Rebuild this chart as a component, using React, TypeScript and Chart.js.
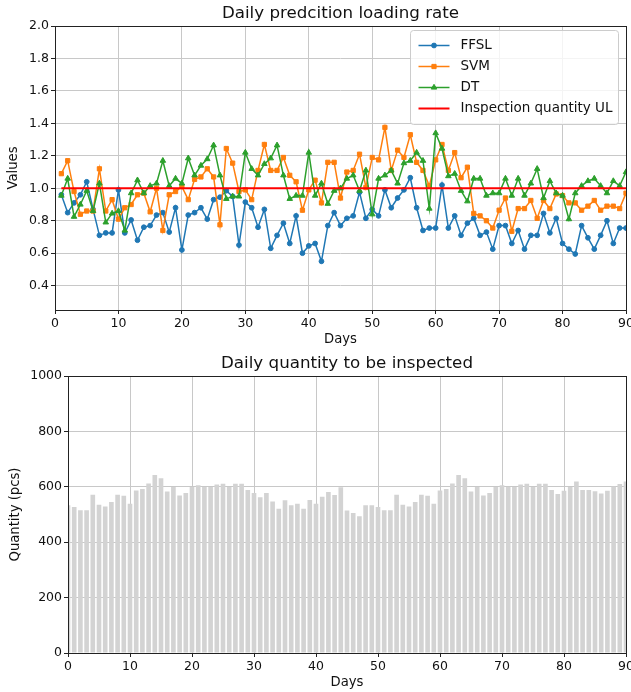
import React, { useEffect, useRef } from "react";
import { Chart, registerables } from "chart.js";

Chart.register(...registerables);

const FONT = "'DejaVu Sans', 'Liberation Sans', sans-serif";

const FFSL = [
  0.96, 0.85, 0.91, 0.96, 1.04, 0.87, 0.71, 0.725, 0.725, 0.99,
  0.725, 0.805, 0.68, 0.76, 0.77, 0.835, 0.85, 0.73, 0.88, 0.62,
  0.835, 0.85, 0.88, 0.81, 0.93, 0.945, 0.985, 0.95, 0.65, 0.915,
  0.88, 0.76, 0.87, 0.63, 0.71, 0.785, 0.66, 0.83, 0.6, 0.645,
  0.66, 0.55, 0.77, 0.85, 0.77, 0.815, 0.83, 0.975, 0.815, 0.87,
  0.83, 0.99, 0.88, 0.94, 0.99, 1.065, 0.88, 0.74, 0.755, 0.755,
  1.02, 0.755, 0.83, 0.71, 0.785, 0.815, 0.71, 0.73, 0.625, 0.77,
  0.77, 0.66, 0.74, 0.625, 0.71, 0.71, 0.845, 0.725, 0.815, 0.66,
  0.625, 0.595, 0.77, 0.695, 0.625, 0.71, 0.8, 0.66, 0.755, 0.755,
];

const SVM = [
  1.09, 1.17, 0.98, 0.84, 0.86, 0.86, 1.12, 0.86, 0.93, 0.81,
  0.88, 0.9, 0.96, 0.97, 0.855, 1.0, 0.74, 0.96, 0.98, 1.01,
  0.93, 1.055, 1.07, 1.12, 1.07, 0.775, 1.245, 1.155, 0.98, 0.99,
  0.93, 1.11, 1.27, 1.11, 1.11, 1.19, 1.08, 1.04, 0.865, 0.99,
  1.05, 0.91, 1.16, 1.16, 0.94, 1.1, 1.11, 1.21, 1.005, 1.19,
  1.175, 1.375, 1.11, 1.235, 1.19, 1.33, 1.16, 1.11, 1.015, 1.175,
  1.27, 1.11, 1.22, 1.065, 1.13, 0.845, 0.83, 0.8, 0.755, 0.865,
  0.94, 0.735, 0.875, 0.875, 0.925, 0.815, 0.925, 0.875, 0.965, 0.955,
  0.91, 0.91, 0.865, 0.89, 0.925, 0.865, 0.89, 0.89, 0.875, 0.97,
];

const DT = [
  0.955, 1.06, 0.825, 0.9, 0.985, 0.86, 1.03, 0.79, 0.845, 0.86,
  0.74, 0.97, 1.05, 0.97, 1.015, 1.03, 1.17, 1.015, 1.06, 1.03,
  1.185, 1.08, 1.14, 1.18, 1.265, 1.08, 0.935, 0.95, 0.95, 1.22,
  1.12, 1.08, 1.15, 1.185, 1.265, 1.08, 0.935, 0.955, 0.955, 1.22,
  0.955, 1.03, 0.905, 0.985, 1.0, 1.06, 1.08, 0.985, 1.11, 0.84,
  1.06, 1.08, 1.11, 1.03, 1.155, 1.17, 1.22, 1.17, 0.875, 1.34,
  1.245, 1.075, 1.09, 0.985, 0.92, 1.06, 1.06, 0.955, 0.97, 0.97,
  1.06, 0.955, 1.06, 0.955, 1.03, 1.12, 0.94, 1.045, 0.97, 0.955,
  0.81, 0.97, 1.015, 1.045, 1.06, 1.015, 0.97, 1.045, 1.015, 1.1,
];

const UL = 1.0;
const UL_SPAN = [1, 90];

const QTY = [
  533, 527, 515, 515, 571, 535, 529, 545, 571, 568,
  539, 587, 592, 612, 643, 631, 583, 599, 569, 578,
  599, 606, 599, 599, 608, 611, 599, 611, 611, 588,
  578, 562, 578, 547, 521, 551, 533, 539, 521, 552,
  539, 564, 581, 570, 598, 514, 505, 494, 533, 533,
  527, 515, 515, 571, 535, 529, 545, 571, 568, 539,
  587, 592, 612, 643, 631, 583, 599, 569, 578, 599,
  606, 599, 599, 608, 611, 599, 611, 611, 588, 574,
  586, 599, 619, 588, 588, 584, 576, 586, 601, 610,
  619,
];

const RATE_TICKS = [0.4, 0.6, 0.8, 1.0, 1.2, 1.4, 1.6, 1.8, 2.0];
const QTY_TICKS = [0, 200, 400, 600, 800, 1000];
const DAY_TICKS = [0, 10, 20, 30, 40, 50, 60, 70, 80, 90];

const TEXT = "#111";
const GRID = "#c8c8c8";
const TICK_FONT = { family: FONT, size: 12.5 };
const LABEL_FONT = { family: FONT, size: 13.2 };
const TITLE_FONT = { family: FONT, size: 16.7, weight: "normal" as const };

const framePlugin = {
  id: "frame",
  afterDraw(chart: any) {
    const { ctx, chartArea: a } = chart;
    ctx.save();
    ctx.strokeStyle = "#222";
    ctx.lineWidth = 1;
    const l = Math.round(a.left) + 0.5;
    const t = Math.round(a.top) + 0.5;
    const r = Math.round(a.right) + 0.5;
    const b = Math.round(a.bottom) + 0.5;
    ctx.strokeRect(l, t, r - l, b - t);
    ctx.restore();
  },
};

function drawMarker(ctx: CanvasRenderingContext2D, style: string, x: number, y: number, r: number, color: string) {
  ctx.save();
  ctx.fillStyle = color;
  ctx.strokeStyle = color;
  ctx.lineWidth = 1;
  ctx.beginPath();
  if (style === "circle") {
    ctx.arc(x, y, r, 0, Math.PI * 2);
  } else if (style === "rect") {
    const s = Math.SQRT1_2 * r;
    ctx.rect(x - s, y - s, 2 * s, 2 * s);
  } else if (style === "triangle") {
    let rad = 0;
    ctx.moveTo(x + Math.sin(rad) * r, y - Math.cos(rad) * r);
    rad += (2 * Math.PI) / 3;
    ctx.lineTo(x + Math.sin(rad) * r, y - Math.cos(rad) * r);
    rad += (2 * Math.PI) / 3;
    ctx.lineTo(x + Math.sin(rad) * r, y - Math.cos(rad) * r);
    ctx.closePath();
  }
  ctx.fill();
  ctx.stroke();
  ctx.restore();
}

const insideLegend = {
  id: "insideLegend",
  afterDraw(chart: any) {
    const { ctx, chartArea: a } = chart;
    const fs = 13.5;
    const items = chart.data.datasets;
    ctx.save();
    ctx.font = `${fs}px ${FONT}`;
    const textW = Math.max(...items.map((d: any) => ctx.measureText(d.label).width));
    const padL = 8, handle = 31, gap = 11, padR = 6, rowH = 21;
    const w = padL + handle + gap + textW + padR;
    const h = 15 + rowH * (items.length - 1) + 16;
    const x = Math.round(a.right - 8 - w) + 0.5;
    const y = Math.round(a.top + 4) + 0.5;
    ctx.beginPath();
    if ((ctx as any).roundRect) (ctx as any).roundRect(x, y, w, h, 3);
    else ctx.rect(x, y, w, h);
    ctx.fillStyle = "rgba(255,255,255,0.8)";
    ctx.fill();
    ctx.strokeStyle = "#cccccc";
    ctx.lineWidth = 1;
    ctx.stroke();
    items.forEach((d: any, i: number) => {
      const cy = y + 15 + i * rowH;
      const hx0 = x + padL;
      const hx1 = hx0 + handle;
      ctx.beginPath();
      ctx.strokeStyle = d.borderColor;
      ctx.lineWidth = d.borderWidth;
      ctx.moveTo(hx0, cy);
      ctx.lineTo(hx1, cy);
      ctx.stroke();
      if (d.pointRadius > 0) drawMarker(ctx, d.pointStyle, (hx0 + hx1) / 2, cy, d.pointRadius, d.borderColor);
      ctx.fillStyle = TEXT;
      ctx.textBaseline = "middle";
      ctx.textAlign = "left";
      ctx.fillText(d.label, hx1 + gap, cy);
    });
    ctx.restore();
  },
};

function baseScale(extra: any) {
  return {
    ticks: { font: TICK_FONT, color: TEXT, padding: 2, maxRotation: 0, autoSkip: false },
    grid: { color: GRID, lineWidth: 1, tickColor: "#222", tickLength: 4 },
    border: { display: false },
    ...extra,
  };
}

function RateChart() {
  const ref = useRef<HTMLCanvasElement>(null);
  useEffect(() => {
    const toPts = (arr: number[]) => arr.map((v, i) => ({ x: i + 1, y: v }));
    const chart = new Chart(ref.current as HTMLCanvasElement, {
      type: "line",
      data: {
        datasets: [
          { label: "FFSL", data: toPts(FFSL), borderColor: "#1f77b4", backgroundColor: "#1f77b4", pointBackgroundColor: "#1f77b4", pointBorderColor: "#1f77b4", pointStyle: "circle", pointRadius: 2.4, pointBorderWidth: 1, borderWidth: 1.5, order: 3 },
          { label: "SVM", data: toPts(SVM), borderColor: "#ff7f0e", backgroundColor: "#ff7f0e", pointBackgroundColor: "#ff7f0e", pointBorderColor: "#ff7f0e", pointStyle: "rect", pointRadius: 3.0, pointBorderWidth: 1, borderWidth: 1.5, order: 2 },
          { label: "DT", data: toPts(DT), borderColor: "#2ca02c", backgroundColor: "#2ca02c", pointBackgroundColor: "#2ca02c", pointBorderColor: "#2ca02c", pointStyle: "triangle", pointRadius: 3.2, pointBorderWidth: 1, borderWidth: 1.5, order: 1 },
          { label: "Inspection quantity UL", data: UL_SPAN.map((d) => ({ x: d, y: UL })), borderColor: "#ff0000", backgroundColor: "#ff0000", pointRadius: 0, borderWidth: 2, order: 0 },
        ] as any,
      },
      options: {
        animation: false,
        responsive: false,
        events: [],
        layout: { padding: { left: 0, right: 5, top: 0, bottom: 0 } },
        plugins: {
          legend: { display: false },
          tooltip: { enabled: false },
          title: { display: true, text: "Daily predcition loading rate", font: TITLE_FONT, color: TEXT, padding: { top: 4, bottom: 1.96 }, fullSize: false },
        },
        scales: {
          x: baseScale({
            type: "linear",
            min: 0,
            max: 90,
            afterBuildTicks: (s: any) => { s.ticks = DAY_TICKS.map((v) => ({ value: v })); },
            title: { display: true, text: "Days", font: LABEL_FONT, color: TEXT, padding: { top: 0, bottom: 2.2 } },
            afterFit: (s: any) => { s.height = 40; s.paddingLeft = 0; s.paddingRight = 0; },
          }),
          y: baseScale({
            type: "linear",
            min: 0.25,
            max: 2.0,
            afterBuildTicks: (s: any) => { s.ticks = RATE_TICKS.map((v) => ({ value: v })); },
            ticks: { font: TICK_FONT, color: TEXT, padding: 2, callback: (v: any) => Number(v).toFixed(1) },
            title: { display: true, text: "Values", font: LABEL_FONT, color: TEXT, padding: { top: 6, bottom: 0 } },
            afterFit: (s: any) => { s.width = 55; },
          }),
        },
      } as any,
      plugins: [framePlugin, insideLegend],
    });
    return () => chart.destroy();
  }, []);
  return <canvas ref={ref} width={631} height={350} style={{ position: "absolute", left: 0, top: 0, display: "block" }} />;
}

function QtyChart() {
  const ref = useRef<HTMLCanvasElement>(null);
  useEffect(() => {
    const chart = new Chart(ref.current as HTMLCanvasElement, {
      type: "bar",
      data: {
        datasets: [
          { label: "Quantity", data: QTY.map((v, i) => ({ x: i, y: v })), backgroundColor: "#d3d3d3", borderWidth: 0, barPercentage: 0.75, categoryPercentage: 1, clip: 0 },
        ] as any,
      },
      options: {
        animation: false,
        responsive: false,
        events: [],
        layout: { padding: { left: 0, right: 5, top: 0, bottom: 0 } },
        plugins: {
          legend: { display: false },
          tooltip: { enabled: false },
          title: { display: true, text: "Daily quantity to be inspected", font: TITLE_FONT, color: TEXT, padding: { top: 4, bottom: 1.96 }, fullSize: false },
        },
        scales: {
          x: baseScale({
            type: "linear",
            min: 0,
            max: 90,
            offset: false,
            z: 1,
            grid: { color: GRID, lineWidth: 1, tickColor: "#222", tickLength: 4, offset: false },
            afterBuildTicks: (s: any) => { s.ticks = DAY_TICKS.map((v) => ({ value: v })); },
            title: { display: true, text: "Days", font: LABEL_FONT, color: TEXT, padding: { top: 0, bottom: 1.2 } },
            afterFit: (s: any) => { s.height = 39; s.paddingLeft = 0; s.paddingRight = 0; },
          }),
          y: baseScale({
            type: "linear",
            min: 0,
            max: 1000,
            z: 1,
            afterBuildTicks: (s: any) => { s.ticks = QTY_TICKS.map((v) => ({ value: v })); },
            ticks: { font: TICK_FONT, color: TEXT, padding: 2, callback: (v: any) => String(v) },
            title: { display: true, text: "Quantity (pcs)", font: LABEL_FONT, color: TEXT, padding: { top: 8, bottom: 0 } },
            afterFit: (s: any) => { s.width = 68; },
          }),
        },
      } as any,
      plugins: [framePlugin],
    });
    return () => chart.destroy();
  }, []);
  return <canvas ref={ref} width={631} height={342} style={{ position: "absolute", left: 0, top: 350, display: "block" }} />;
}

export default function App() {
  return (
    <div style={{ position: "fixed", left: 0, top: 0, width: 631, height: 692, background: "#fff", overflow: "hidden" }}>
      <RateChart />
      <QtyChart />
    </div>
  );
}
